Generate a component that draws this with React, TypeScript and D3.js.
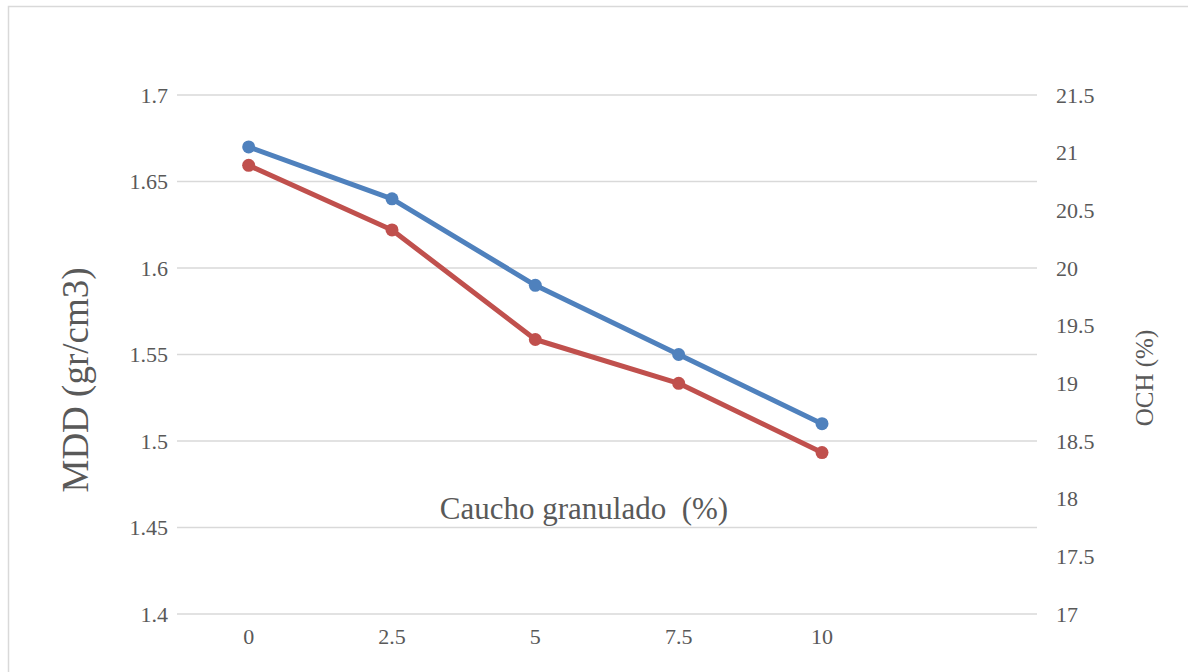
import React from 'react';
import * as d3 from 'd3';

const categories = ['0', '2.5', '5', '7.5', '10', ''];
const mddValues = [1.67, 1.64, 1.59, 1.55, 1.51];
const ochValues = [20.89, 20.33, 19.38, 19.0, 18.4];
const leftTicks = [1.4, 1.45, 1.5, 1.55, 1.6, 1.65, 1.7];
const rightTicks = [17, 17.5, 18, 18.5, 19, 19.5, 20, 20.5, 21, 21.5];

const width = 1188;
const height = 672;
const margin = { top: 95, right: 151, bottom: 58, left: 177 };

const font = '"Liberation Serif", "Times New Roman", serif';
const textColor = '#595959';
const gridColor = '#d9d9d9';
const blue = '#4f81bd';
const red = '#c0504d';

const App = () => {
  const xScale = d3.scaleBand()
    .domain(categories)
    .range([margin.left, width - margin.right]);

  const yLeft = d3.scaleLinear()
    .domain([1.4, 1.7])
    .range([height - margin.bottom, margin.top]);

  const yRight = d3.scaleLinear()
    .domain([17, 21.5])
    .range([height - margin.bottom, margin.top]);

  const cx = (i: number) => (xScale(categories[i]) as number) + xScale.bandwidth() / 2;

  const lineLeft = d3.line<number>()
    .x((_, i) => cx(i))
    .y(d => yLeft(d));

  const lineRight = d3.line<number>()
    .x((_, i) => cx(i))
    .y(d => yRight(d));

  const fmt = (v: number) => String(+v.toFixed(2));

  return (
    <svg width={width} height={height}
      style={{ position: 'absolute', left: 0, top: 0, background: '#fff', fontFamily: font }}>
      <rect x={8.5} y={6.5} width={1200} height={700} fill="#fff" stroke={gridColor} strokeWidth={1.5} />

      {/* gridlines */}
      {leftTicks.map(t => (
        <line key={t} x1={margin.left} x2={width - margin.right}
          y1={yLeft(t)} y2={yLeft(t)} stroke={gridColor} strokeWidth={1.5} />
      ))}

      {/* left axis labels */}
      {leftTicks.map(t => (
        <text key={t} x={margin.left - 9} y={yLeft(t)} dy="0.35em"
          textAnchor="end" fontSize={22} fill={textColor}>{fmt(t)}</text>
      ))}

      {/* right axis labels */}
      {rightTicks.map(t => (
        <text key={t} x={width - margin.right + 19} y={yRight(t)} dy="0.35em"
          textAnchor="start" fontSize={22} fill={textColor}>{fmt(t)}</text>
      ))}

      {/* x axis labels */}
      {categories.map(c => (
        <text key={c} x={(xScale(c) as number) + xScale.bandwidth() / 2}
          y={height - margin.bottom + 22} dy="0.35em"
          textAnchor="middle" fontSize={22} fill={textColor}>{c}</text>
      ))}

      {/* axis titles */}
      <text transform={`translate(88, ${380}) rotate(-90)`} textAnchor="middle"
        fontSize={37} fill={textColor}>MDD (gr/cm3)</text>
      <text transform={`translate(1153, ${378}) rotate(-90)`} textAnchor="middle"
        fontSize={25} fill={textColor}>OCH (%)</text>
      <text x={584} y={508} dy="0.35em" textAnchor="middle" fontSize={31}
        fill={textColor} style={{ whiteSpace: 'pre' }}>Caucho granulado  (%)</text>

      {/* series */}
      <path d={lineLeft(mddValues) as string} fill="none" stroke={blue} strokeWidth={5}
        strokeLinejoin="round" strokeLinecap="round" />
      {mddValues.map((v, i) => (
        <circle key={i} cx={cx(i)} cy={yLeft(v)} r={6.5} fill={blue} />
      ))}
      <path d={lineRight(ochValues) as string} fill="none" stroke={red} strokeWidth={5}
        strokeLinejoin="round" strokeLinecap="round" />
      {ochValues.map((v, i) => (
        <circle key={i} cx={cx(i)} cy={yRight(v)} r={6.5} fill={red} />
      ))}
    </svg>
  );
};

export default App;
